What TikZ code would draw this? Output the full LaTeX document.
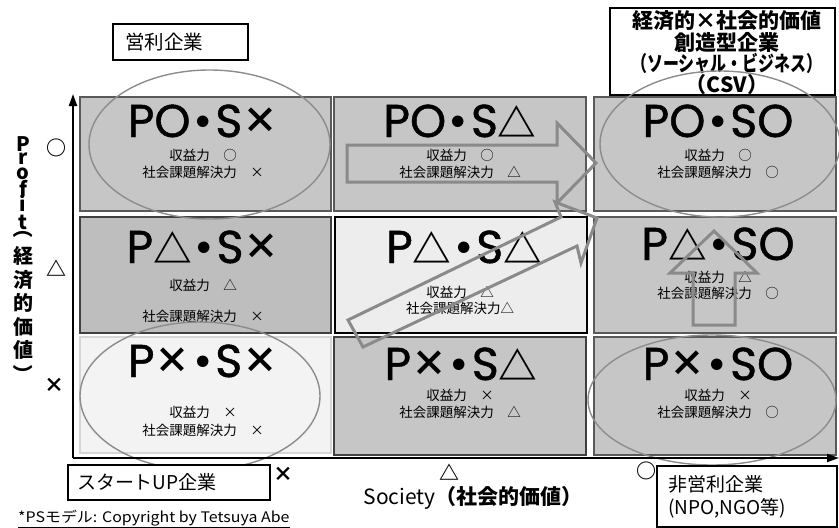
\documentclass[tikz,border=0pt]{standalone}
\usepackage{fontspec}
\usepackage{graphicx}
\setmainfont{Noto Sans CJK JP}
\newfontfamily\popfont[FakeBold=1]{Poppins}
\newfontfamily\cjkfont{Noto Sans CJK JP}
\usetikzlibrary{arrows.meta,shapes.geometric}
\definecolor{cellgray}{HTML}{C6C6C6}
\definecolor{celldark}{HTML}{BEBEBE}
\definecolor{celllight}{HTML}{EDEDED}
\definecolor{cellpale}{HTML}{F3F3F3}
\definecolor{edgegray}{HTML}{595959}
\definecolor{edgedark}{HTML}{404040}
\definecolor{edgepale}{HTML}{D6D6D6}
\definecolor{ovalgray}{HTML}{8C8C8C}
\definecolor{arrowgray}{HTML}{8A8A8A}
\newcommand\mdot{{\cjkfont\bfseries\kern-.18em\scalebox{0.9}{・}\kern-.18em}}
\newcommand\mtri{{\cjkfont\bfseries\scalebox{0.84}{△}}}
\newcommand\mcross{{\cjkfont\bfseries\raisebox{4pt}{\scalebox{0.78}{×}}}}
\newcommand\vstack[1]{\vtop{\baselineskip0pt\lineskiplimit-100pt\lineskip0pt\halign{\hfil##\hfil\cr#1\crcr}}}
\newcommand\vgap[1]{\noalign{\vskip#1}}
\tikzset{
  cellbox/.style={draw=edgegray, fill=cellgray, line width=2pt, inner sep=0},
  ttl/.style={font=\popfont\fontsize{46}{46}\selectfont, inner sep=0, anchor=base},
  sml/.style={font=\fontsize{13.5}{14}\selectfont, inner sep=0},
  oval/.style={ellipse, draw=ovalgray, line width=1.4pt, inner sep=0},
  fatarrow/.style={draw=arrowgray, line width=3pt, line join=miter},
  lbox/.style={draw=black, fill=white, line width=2pt, inner sep=0},
  axis/.style={line width=2pt, -{Triangle[length=12pt,width=8pt]}},
  axmark/.style={font=\bfseries\fontsize{20}{20}\selectfont, inner sep=0},
}
\begin{document}
\begin{tikzpicture}[x=1pt,y=-1pt]
\useasboundingbox (0,0) rectangle (839,528);
% cells
\node[cellbox, minimum width=251pt, minimum height=114pt] (c11) at (205.5,154) {};
\node[cellbox, minimum width=252pt, minimum height=114pt] (c12) at (460,154) {};
\node[cellbox, minimum width=242pt, minimum height=114pt] (c13) at (715,154) {};
\node[cellbox, fill=celldark, draw=edgedark, minimum width=251pt, minimum height=116pt] (c21) at (205.5,275) {};
\node[cellbox, fill=celllight, draw=black, minimum width=252pt, minimum height=116pt] (c22) at (460.5,275) {};
\node[cellbox, minimum width=242pt, minimum height=116pt] (c23) at (715,275) {};
\node[cellbox, fill=cellpale, draw=edgepale, minimum width=251pt, minimum height=116pt] (c31) at (205.5,395) {};
\node[cellbox, draw=edgedark, minimum width=252pt, minimum height=118pt] (c32) at (460,396) {};
\node[cellbox, minimum width=242pt, minimum height=118pt] (c33) at (715,396) {};
% titles
\node[ttl] (t11) at (203,137) {PO\mdot S\mcross};
\node[ttl] (t12) at (460,137) {PO\mdot S\mtri};
\node[ttl] (t13) at (718,137) {PO\mdot SO};
\node[ttl] (t21) at (203,263) {P\mtri\mdot S\mcross};
\node[ttl] (t22) at (464,263) {P\mtri\mdot S\mtri};
\node[ttl] (t23) at (718,260) {P\mtri\mdot SO};
\node[ttl] (t31) at (203,377) {P\mcross\mdot S\mcross};
\node[ttl] (t32) at (461,380) {P\mcross\mdot S\mtri};
\node[ttl] (t33) at (718,380) {P\mcross\mdot SO};
% small texts
\node[sml] (s11a) at (203,155) {収益力　○};
\node[sml] (s11b) at (203,172) {社会課題解決力　×};
\node[sml] (s12a) at (460,155) {収益力　○};
\node[sml] (s12b) at (460,172) {社会課題解決力　△};
\node[sml] (s13a) at (718,155) {収益力　○};
\node[sml] (s13b) at (718,172) {社会課題解決力　○};
\node[sml] (s21a) at (203,285) {収益力　△};
\node[sml] (s21b) at (203,316) {社会課題解決力　×};
\node[sml] (s22a) at (460,292) {収益力　△};
\node[sml] (s22b) at (460,308) {社会課題解決力△};
\node[sml] (s23a) at (718,277) {収益力　△};
\node[sml] (s23b) at (718,293) {社会課題解決力　○};
\node[sml] (s31a) at (203,412) {収益力　×};
\node[sml] (s31b) at (203,430) {社会課題解決力　×};
\node[sml] (s32a) at (460,395) {収益力　×};
\node[sml] (s32b) at (460,412) {社会課題解決力　△};
\node[sml] (s33a) at (718,395) {収益力　×};
\node[sml] (s33b) at (718,412) {社会課題解決力　○};
% label boxes
\node[lbox, text width=111pt, align=left, inner xsep=12pt, minimum height=36pt, font=\fontsize{19.5}{20}\selectfont] (eiri) at (180.5,42) {営利企業};
\node[lbox, minimum width=225pt, minimum height=87pt] (csvbox) at (722.5,51.5) {};
\node[inner sep=0, align=center, font=\bfseries\fontsize{21}{20.2}\selectfont] (csvtext) at (727,53) {経済的×社会的価値\\創造型企業\\\scalebox{0.76}[1]{（ソーシャル・ビジネス）}\\（CSV）};
% ovals
\node[oval, minimum width=241pt, minimum height=149pt] (o11) at (209.5,144.5) {};
\node[oval, minimum width=240pt, minimum height=146pt] (o13) at (720,144) {};
\node[oval, minimum width=240pt, minimum height=148pt] (o31) at (200,396) {};
\node[oval, minimum width=248pt, minimum height=130pt] (o33) at (712,400) {};
% fat arrows
\draw[fatarrow] (347,145) -- (557,145) -- (557,123) -- (596,163) -- (557,203) -- (557,182) -- (347,182) -- cycle;
\draw[fatarrow] (348,320) -- (561,217) -- (555,202) -- (597,218) -- (581,263) -- (577,246) -- (363,347) -- cycle;
\draw[fatarrow] (693,325) -- (693,273) -- (670,273) -- (714,231) -- (757,273) -- (735,273) -- (735,325) -- cycle;
% axes
\coordinate (org) at (73,458);
\coordinate (ytop) at (73,94);
\coordinate (xend) at (839,458);
\draw[axis] (org) -- (ytop);
\draw[axis] (org) -- (xend);
% axis marks
\node[axmark] (py) at (56,148) {○};
\node[axmark] (pm) at (56,268) {△};
\node[axmark] (pn) at (55,385) {×};
\node[axmark] (sn) at (283,474) {×};
\node[axmark] (sm) at (449,472) {△};
\node[axmark] (sy) at (646,471) {○};
% axis titles
\node[inner sep=0, anchor=north, font=\bfseries\fontsize{20}{20}\selectfont] (ylab) at (23,136)
  {\vstack{P\cr\vgap{13pt}r\cr\vgap{15pt}o\cr\vgap{17pt}f\cr\vgap{15pt}i\cr\vgap{18pt}t\cr\vgap{5pt}\raisebox{16pt}{\rotatebox{-90}{（}}\cr\vgap{29pt}経\cr\vgap{24pt}済\cr\vgap{23pt}的\cr\vgap{24pt}価\cr\vgap{23pt}値\cr\vgap{12pt}\raisebox{5pt}{\rotatebox{-90}{）}}}};
\node[inner sep=0, font=\fontsize{21}{22}\selectfont] (xlab) at (473,498) {Society{\bfseries（社会的価値）}};
% bottom boxes
\node[lbox, text width=184pt, align=left, inner xsep=9pt, minimum height=35pt, font=\fontsize{19}{20}\selectfont] (startup) at (169,482.5) {スタートUP企業};
\node[lbox, text width=158pt, align=left, inner xsep=11pt, minimum height=61pt, font=\fontsize{19}{23}\selectfont] (npo) at (747,496.5) {非営利企業\\(NPO,NGO等)};
% copyright
\node[inner sep=0, anchor=west, font=\fontsize{14.5}{14}\selectfont] (copy) at (18,519) {\scalebox{1.1}[1]{\underline{*PSモデル: Copyright by Tetsuya Abe}}};
\end{tikzpicture}
\end{document}
